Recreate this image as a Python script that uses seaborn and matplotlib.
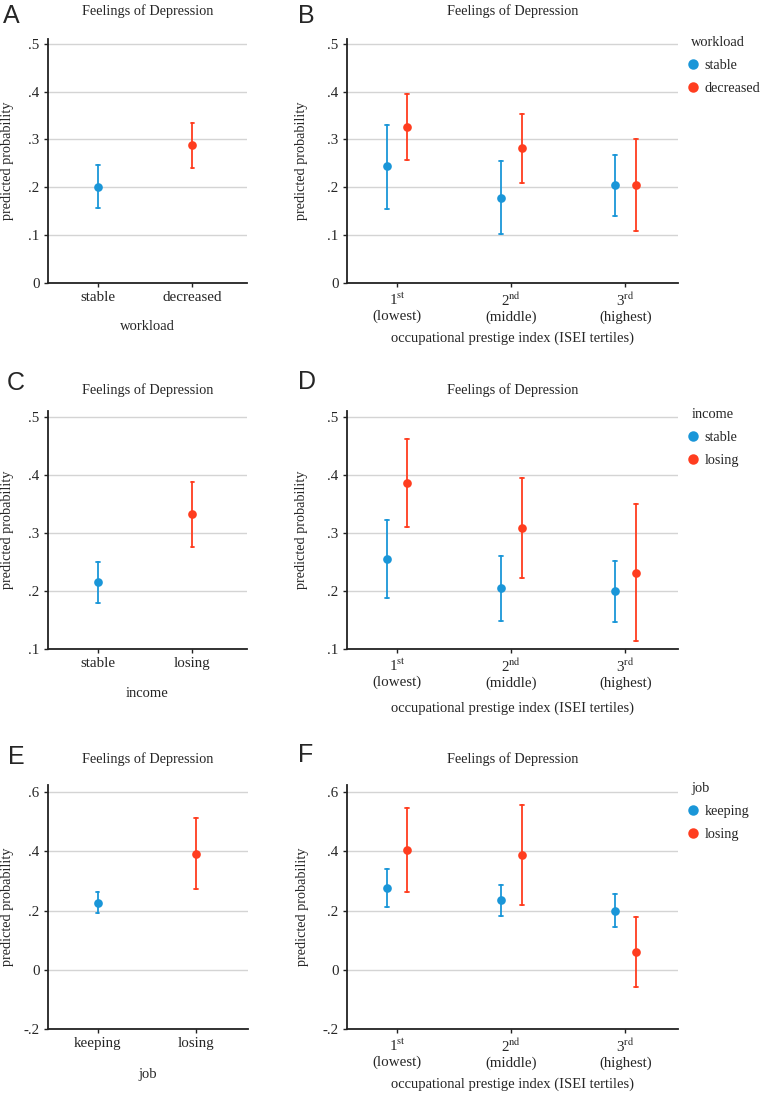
import pandas as pd
import matplotlib
matplotlib.use("Agg")
import matplotlib.pyplot as plt
import seaborn as sns
from matplotlib.ticker import FuncFormatter

sns.set_style("ticks")
plt.rcParams["font.family"] = ["Liberation Serif", "DejaVu Serif"]
plt.rcParams["mathtext.fontset"] = "stix"
plt.rcParams["font.size"] = 10

BLUE = "#1a96d8"
RED = "#ff3d1f"

tertiles = ["1$^{\\rm st}$\n(lowest)", "2$^{\\rm nd}$\n(middle)", "3$^{\\rm rd}$\n(highest)"]

# A: workload
workload = ["stable", "decreased"]
a_est = [0.201, 0.288]
a_lo = [0.157, 0.241]
a_hi = [0.247, 0.335]

# B: workload x ISEI tertiles
b_stable_est = [0.244, 0.178, 0.204]
b_stable_lo = [0.155, 0.102, 0.141]
b_stable_hi = [0.331, 0.255, 0.267]
b_decr_est = [0.327, 0.282, 0.204]
b_decr_lo = [0.258, 0.208, 0.109]
b_decr_hi = [0.396, 0.354, 0.301]

# C: income
income = ["stable", "losing"]
c_est = [0.215, 0.332]
c_lo = [0.180, 0.275]
c_hi = [0.250, 0.388]

# D: income x ISEI tertiles
d_stable_est = [0.255, 0.205, 0.200]
d_stable_lo = [0.188, 0.149, 0.147]
d_stable_hi = [0.323, 0.261, 0.252]
d_losing_est = [0.386, 0.308, 0.231]
d_losing_lo = [0.311, 0.222, 0.114]
d_losing_hi = [0.462, 0.394, 0.349]

# E: job
job = ["keeping", "losing"]
e_est = [0.227, 0.392]
e_lo = [0.192, 0.273]
e_hi = [0.261, 0.511]

# F: job x ISEI tertiles
f_keep_est = [0.277, 0.234, 0.200]
f_keep_lo = [0.212, 0.181, 0.144]
f_keep_hi = [0.342, 0.287, 0.257]
f_losing_est = [0.403, 0.388, 0.060]
f_losing_lo = [0.261, 0.219, -0.057]
f_losing_hi = [0.545, 0.557, 0.179]


def long_df(xs, group, est, lo, hi):
    # lo / estimate / hi rows -> median gives the estimate, full range gives the CI
    rows = []
    for x, e, l, h in zip(xs, est, lo, hi):
        for v in (l, e, h):
            rows.append({"x": x, "g": group, "v": v})
    return pd.DataFrame(rows)


def fmt(v, pos):
    if abs(v) < 1e-9:
        return "0"
    s = f"{v:.1f}"
    return s.replace("0.", ".")


def style_axis(ax, xlim, ylim, yticks, xlabel, xlab_y, ylab_x, pad):
    ax.set_xlim(*xlim)
    ax.set_ylim(*ylim)
    ax.set_yticks(yticks)
    ax.yaxis.set_major_formatter(FuncFormatter(fmt))
    ax.yaxis.grid(True, color="#d4d4d4", lw=1)
    ax.set_axisbelow(True)
    sns.despine(ax=ax)
    for s in ("left", "bottom"):
        ax.spines[s].set_linewidth(1.3)
        ax.spines[s].set_color("#222222")
    ax.tick_params(length=3, width=1, color="#222222", labelsize=10.8, pad=3)
    ax.set_title("Feelings of Depression", fontsize=10.3, pad=pad)
    ax.set_xlabel(xlabel, fontsize=10.5)
    ax.set_ylabel("predicted probability", fontsize=10.3)
    ax.xaxis.set_label_coords(0.5, xlab_y)
    ax.yaxis.set_label_coords(ylab_x, 0.5)


def simple_panel(ax, cats, est, lo, hi):
    df = pd.concat([long_df([c], c, [e], [l], [h])
                    for c, e, l, h in zip(cats, est, lo, hi)])
    sns.pointplot(data=df, x="x", y="v", hue="g", order=cats, hue_order=cats,
                  palette=[BLUE, RED], estimator="median", errorbar=("pi", 100),
                  capsize=0.035, err_kws={"linewidth": 1.3}, linestyle="none",
                  markers="o", markersize=4.2, legend=False, ax=ax)


def tertile_panel(ax, levels, series, title):
    df = pd.concat([long_df(tertiles, lev, *vals) for lev, vals in zip(levels, series)])
    sns.pointplot(data=df, x="x", y="v", hue="g", order=tertiles, hue_order=levels,
                  palette=[BLUE, RED], estimator="median", errorbar=("pi", 100),
                  dodge=0.18, capsize=0.035, err_kws={"linewidth": 1.3},
                  linestyle="none", markers="o", markersize=4.2, ax=ax)
    sns.move_legend(ax, "upper left", bbox_to_anchor=(1.04, 1.012), frameon=False,
                    title=title, alignment="left", borderaxespad=0, borderpad=0,
                    handlelength=0.2, handletextpad=0.75, labelspacing=0.7,
                    fontsize=10.2, title_fontsize=10.4)
    for h in ax.get_legend().legend_handles:
        h.set_markersize(5.5)
        h.set_linestyle("none")


fig = plt.figure(figsize=(7.62, 10.93), dpi=100)
H = 1093
W = 762


def add_ax(left, top, right, bottom):
    return fig.add_axes([left / W, (H - bottom) / H, (right - left) / W, (bottom - top) / H])


axA = add_ax(48, 39, 247, 283)
axB = add_ax(347, 39, 678, 283)
axC = add_ax(48, 411, 247, 649)
axD = add_ax(347, 411, 678, 649)
axE = add_ax(48, 785, 248, 1029)
axF = add_ax(347, 785, 678, 1029)

xlab = "occupational prestige index (ISEI tertiles)"

simple_panel(axA, workload, a_est, a_lo, a_hi)
style_axis(axA, (-0.53, 1.58), (0, 0.51), [0, .1, .2, .3, .4, .5], "workload", -0.15, -0.17, 17)

tertile_panel(axB, workload, [(b_stable_est, b_stable_lo, b_stable_hi),
                              (b_decr_est, b_decr_lo, b_decr_hi)], "workload")
style_axis(axB, (-0.44, 2.46), (0, 0.51), [0, .1, .2, .3, .4, .5], xlab, -0.20, -0.118, 17)

simple_panel(axC, income, c_est, c_lo, c_hi)
style_axis(axC, (-0.53, 1.58), (0.1, 0.51), [.1, .2, .3, .4, .5], "income", -0.16, -0.17, 12)

tertile_panel(axD, income, [(d_stable_est, d_stable_lo, d_stable_hi),
                            (d_losing_est, d_losing_lo, d_losing_hi)], "income")
style_axis(axD, (-0.44, 2.46), (0.1, 0.51), [.1, .2, .3, .4, .5], xlab, -0.22, -0.118, 12)

simple_panel(axE, job, e_est, e_lo, e_hi)
style_axis(axE, (-0.505, 1.53), (-0.2, 0.624), [-.2, 0, .2, .4, .6], "job", -0.16, -0.17, 16)

tertile_panel(axF, job, [(f_keep_est, f_keep_lo, f_keep_hi),
                         (f_losing_est, f_losing_lo, f_losing_hi)], "job")
style_axis(axF, (-0.44, 2.46), (-0.2, 0.624), [-.2, 0, .2, .4, .6], xlab, -0.20, -0.115, 16)

# panel letters
letters = [("A", 3, 16), ("B", 298, 16), ("C", 7, 383),
           ("D", 298, 382), ("E", 8, 757), ("F", 298, 755)]
for lab, x, y in letters:
    fig.text(x / W, (H - y) / H, lab, fontsize=18, ha="left", va="center",
             family=["Liberation Sans", "DejaVu Sans"])

fig.savefig("out.png", dpi=100)
